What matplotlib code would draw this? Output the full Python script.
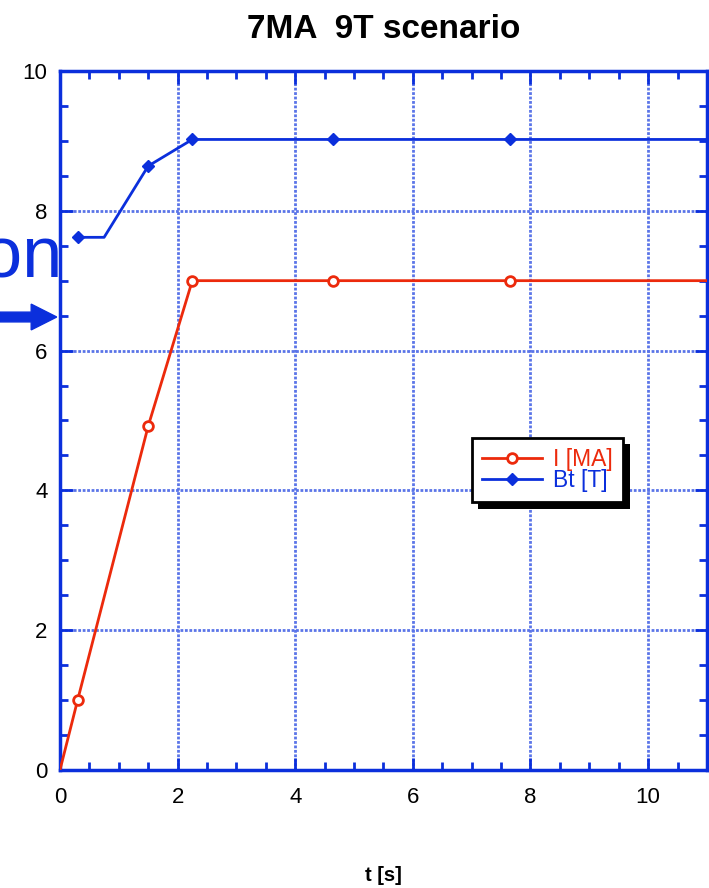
import matplotlib
matplotlib.use("Agg")
import matplotlib.pyplot as plt
import matplotlib.patheffects as pe
from matplotlib.ticker import MultipleLocator

# current ramp, I [MA]
t_cur = [0.0, 0.3, 1.5, 2.25, 4.65, 7.65, 11.0]
i_cur = [0.0, 1.0, 4.92, 7.0, 7.0, 7.0, 7.0]
cur_marks = [1, 2, 3, 4, 5]

# toroidal field, Bt [T]
t_bt = [0.3, 0.75, 1.5, 2.25, 4.65, 7.65, 11.0]
b_bt = [7.62, 7.62, 8.64, 9.02, 9.02, 9.02, 9.02]
bt_marks = [0, 2, 3, 4, 5]

RED = '#ec2a0c'
BLUE = '#0b2fdc'
GRID = '#5a74e8'

plt.rcParams['font.family'] = ['Liberation Sans', 'DejaVu Sans']

fig = plt.figure(figsize=(7.09, 8.88), dpi=100)
ax = fig.add_axes([0.0846, 0.1329, 0.9125, 0.7872])

ax.plot(t_cur, i_cur, color=RED, lw=2, marker='o', markevery=cur_marks,
        ms=7, mfc='white', mec=RED, mew=2, label='I [MA]', zorder=3)
ax.plot(t_bt, b_bt, color=BLUE, lw=2, marker='D', markevery=bt_marks,
        ms=6, mfc=BLUE, mec=BLUE, label='Bt [T]', zorder=3)

ax.set_xlim(0, 11)
ax.set_ylim(0, 10)
ax.xaxis.set_major_locator(MultipleLocator(2))
ax.xaxis.set_minor_locator(MultipleLocator(0.5))
ax.yaxis.set_major_locator(MultipleLocator(2))
ax.yaxis.set_minor_locator(MultipleLocator(0.5))
ax.tick_params(which='both', direction='in', color=BLUE, top=True, right=True,
               labelsize=16)
ax.tick_params(axis='x', pad=12)
ax.tick_params(axis='y', pad=9)
ax.tick_params(which='major', length=9, width=2)
ax.tick_params(which='minor', length=6, width=2)
ax.grid(True, which='major', color=GRID, lw=2, ls=(0, (1, 0.6)))
for sp in ax.spines.values():
    sp.set_color(BLUE)
    sp.set_linewidth(2.5)

ax.set_title('7MA  9T scenario', fontsize=24, fontweight='bold', pad=24)
ax.set_xlabel('t [s]', fontsize=14.5, fontweight='bold', labelpad=42)

leg = ax.legend(loc='center', bbox_to_anchor=(0.754, 0.429), fontsize=16.5,
                frameon=True, fancybox=False, edgecolor='black', framealpha=1,
                handlelength=2.6, handletextpad=0.5, borderpad=0.45,
                labelspacing=-0.1, borderaxespad=0)
frame = leg.get_frame()
frame.set_linewidth(2)
frame.set_path_effects([pe.SimplePatchShadow(offset=(4.5, -4.5), shadow_rgbFace='black',
                                             alpha=1), pe.Normal()])
for txt, c in zip(leg.get_texts(), [RED, BLUE]):
    txt.set_color(c)

# cut-off annotation at the left edge
fig.text(0.088, 0.688, 'on', color=BLUE, fontsize=52, ha='right', va='baseline')
fig.add_artist(matplotlib.patches.FancyArrow(
    0.0, 0.643, 0.080, 0, width=0.011, head_width=0.029, head_length=0.036,
    length_includes_head=True, color=BLUE, transform=fig.transFigure))

fig.savefig('out.png', dpi=100)
